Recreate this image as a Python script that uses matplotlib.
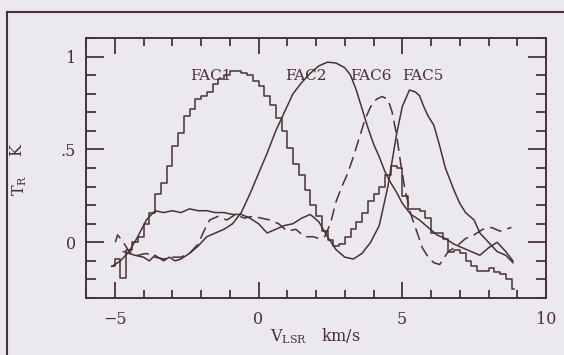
import numpy as np
import matplotlib
matplotlib.use('Agg')
import matplotlib.pyplot as plt
from matplotlib.lines import Line2D
from matplotlib.ticker import MultipleLocator, FixedLocator, FixedFormatter

plt.rcParams['font.family'] = 'DejaVu Serif'
plt.rcParams['mathtext.fontset'] = 'dejavuserif'

ink = '#4a3038'
paper = '#ebe9ed'

# FAC1: channel spectrum (histogram), 0.2 km/s channels starting at -5.1
v_fac1 = np.round(np.arange(-5.1, 8.95, 0.2), 2)
t_fac1 = [-0.13, -0.09, -0.19, -0.04, 0.0, 0.03, 0.10, 0.16, 0.26, 0.32,
          0.41, 0.52, 0.59, 0.68, 0.72, 0.77, 0.79, 0.81, 0.85, 0.88,
          0.90, 0.92, 0.92, 0.91, 0.90, 0.87, 0.84, 0.79, 0.74, 0.67,
          0.60, 0.51, 0.42, 0.36, 0.28, 0.20, 0.14, 0.06, 0.01, -0.02,
          -0.01, 0.03, 0.07, 0.11, 0.16, 0.22, 0.26, 0.30, 0.36, 0.41,
          0.40, 0.25, 0.18, 0.18, 0.17, 0.13, 0.05, 0.05, 0.02, -0.05,
          -0.04, -0.06, -0.10, -0.13, -0.155, -0.155, -0.14, -0.16, -0.17, -0.20,
          -0.25]

# FAC2: solid line
v_fac2 = [-4.7, -4.5, -4.3, -4.0, -3.8, -3.6, -3.3, -3.1, -2.9, -2.7, -2.4, -2.1,
          -1.8, -1.5, -1.2, -0.9, -0.6, -0.3, 0.0, 0.3, 0.6, 0.9, 1.2, 1.5, 1.8,
          2.1, 2.4, 2.7, 3.0, 3.2, 3.4, 3.6, 3.8, 4.0, 4.2, 4.4, 4.6, 4.8, 5.0,
          5.3, 5.6, 5.9, 6.2, 6.5, 6.8, 7.1, 7.4, 7.7, 8.0, 8.3, 8.6, 8.85]
t_fac2 = [-0.05, -0.06, -0.07, -0.08, -0.10, -0.07, -0.10, -0.08, -0.10, -0.09, -0.06, -0.02,
          0.03, 0.05, 0.07, 0.10, 0.16, 0.26, 0.37, 0.48, 0.60, 0.70, 0.80, 0.86, 0.91,
          0.95, 0.97, 0.965, 0.94, 0.90, 0.82, 0.72, 0.62, 0.53, 0.46, 0.38, 0.32, 0.27, 0.21,
          0.15, 0.12, 0.08, 0.04, 0.02, -0.01, -0.03, -0.05, -0.07, -0.03, 0.0, -0.05, -0.10]

# FAC6: dashed line
v_fac6 = [-4.98, -4.9, -4.7, -4.5, -4.2, -3.9, -3.6, -3.3, -3.0, -2.7, -2.4, -2.1,
          -1.9, -1.7, -1.4, -1.1, -0.8, -0.5, -0.2, 0.1, 0.4, 0.7, 1.0, 1.3, 1.6,
          1.9, 2.1, 2.3, 2.5, 2.7, 2.9, 3.1, 3.3, 3.5, 3.7, 3.9, 4.1, 4.3, 4.5,
          4.65, 4.8, 4.95, 5.1, 5.3, 5.5, 5.7, 5.9, 6.1, 6.3, 6.6, 6.9, 7.2, 7.5,
          7.8, 8.1, 8.4, 8.8]
t_fac6 = [0.0, 0.04, 0.0, -0.05, -0.07, -0.06, -0.08, -0.09, -0.08, -0.08, -0.06, -0.01,
          0.06, 0.12, 0.14, 0.12, 0.15, 0.13, 0.14, 0.13, 0.12, 0.10, 0.06, 0.07, 0.03,
          0.03, 0.02, 0.03, 0.10, 0.22, 0.30, 0.37, 0.46, 0.56, 0.66, 0.73, 0.77, 0.785, 0.77,
          0.70, 0.58, 0.42, 0.28, 0.15, 0.06, -0.03, -0.08, -0.11, -0.12, -0.05, -0.02, 0.02, 0.04,
          0.07, 0.08, 0.06, 0.08]

# FAC5: solid line
v_fac5 = [-5.1, -4.8, -4.5, -4.2, -3.9, -3.6, -3.3, -3.0, -2.7, -2.4, -2.1, -1.8,
          -1.5, -1.2, -0.9, -0.6, -0.3, 0.0, 0.3, 0.6, 0.9, 1.2, 1.5, 1.8, 2.1,
          2.4, 2.7, 3.0, 3.3, 3.6, 3.9, 4.2, 4.5, 4.8, 5.0, 5.25, 5.45, 5.6, 5.75,
          5.9, 6.1, 6.3, 6.5, 6.8, 7.0, 7.2, 7.5, 7.7, 8.0, 8.3, 8.6, 8.85]
t_fac5 = [-0.13, -0.10, -0.05, 0.03, 0.12, 0.17, 0.16, 0.17, 0.16, 0.18, 0.17, 0.17,
          0.16, 0.16, 0.15, 0.15, 0.13, 0.10, 0.05, 0.07, 0.09, 0.10, 0.13, 0.15, 0.11,
          0.03, -0.04, -0.08, -0.09, -0.06, 0.0, 0.09, 0.30, 0.58, 0.73, 0.82, 0.81, 0.79, 0.73,
          0.68, 0.63, 0.52, 0.40, 0.28, 0.21, 0.16, 0.12, 0.05, 0.0, -0.05, -0.07, -0.11]

labels = ['FAC1', 'FAC2', 'FAC6', 'FAC5']
label_x = [-2.38, 0.93, 3.2, 5.01]
label_y = 0.875

fig = plt.figure(figsize=(5.64, 3.55), dpi=100)
fig.patch.set_facecolor(paper)
ax = fig.add_axes([86 / 564, 1 - 298 / 355, 460 / 564, 260 / 355])
ax.set_facecolor(paper)

lw = 1.1
ax.step(v_fac1, t_fac1, where='mid', color=ink, lw=lw)
ax.plot(v_fac2, t_fac2, color=ink, lw=lw)
ax.plot(v_fac6, t_fac6, color=ink, lw=lw, linestyle=(0, (8, 4)))
ax.plot(v_fac5, t_fac5, color=ink, lw=lw)

for name, x in zip(labels, label_x):
    ax.text(x, label_y, name, fontsize=11, color=ink, va='baseline', ha='left')

ax.set_xlim(-6, 10)
ax.set_ylim(-0.3, 1.1)

ax.xaxis.set_major_locator(FixedLocator([-5, 0, 5, 10]))
ax.xaxis.set_major_formatter(FixedFormatter(['\u22125', '0', '5', '10']))
ax.xaxis.set_minor_locator(MultipleLocator(1))
ax.yaxis.set_major_locator(FixedLocator([0, 0.5, 1]))
ax.yaxis.set_major_formatter(FixedFormatter(['0', '.5', '1']))
ax.yaxis.set_minor_locator(MultipleLocator(0.1))

ax.tick_params(which='both', direction='in', top=True, right=True, color=ink,
               labelcolor=ink, labelsize=11.5, width=1.3)
ax.tick_params(axis='x', which='major', length=11.5, pad=9.5)
ax.tick_params(axis='x', which='minor', length=6)
ax.tick_params(axis='y', which='major', length=13, pad=7)
ax.tick_params(axis='y', which='minor', length=7.5)
for sp in ax.spines.values():
    sp.set_color(ink)
    sp.set_linewidth(1.4)

# axis titles
fig.text(315 / 564, 1 - 336 / 355, 'V$_{\\mathrm{LSR}}$   km/s', ha='center', va='center',
         fontsize=11.5, color=ink)
fig.text(20 / 564, 1 - 185 / 355, 'T$_{\\mathrm{R}}$', rotation=90, ha='center', va='center',
         fontsize=11.5, color=ink)
fig.text(17 / 564, 1 - 150 / 355, 'K', rotation=90, ha='center', va='center',
         fontsize=11.5, color=ink)

# outer frame of the printed figure
fig.add_artist(Line2D([7 / 564, 7 / 564], [0, 1 - 12 / 355], transform=fig.transFigure,
                      color=ink, lw=1.5))
fig.add_artist(Line2D([7 / 564, 1], [1 - 12 / 355, 1 - 12 / 355], transform=fig.transFigure,
                      color=ink, lw=1.5))

fig.savefig('out.png', dpi=100, facecolor=paper)
